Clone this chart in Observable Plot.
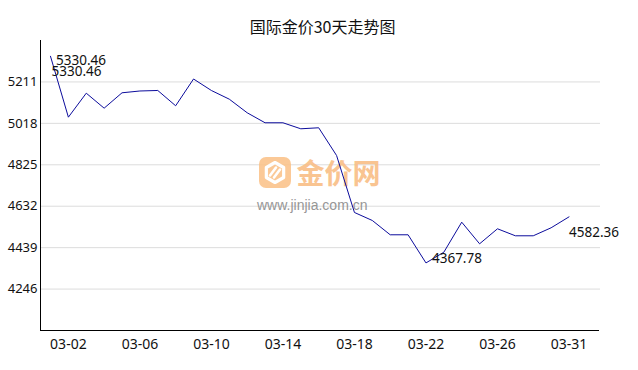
<!DOCTYPE html>
<html><head><meta charset="utf-8">
<script src="https://cdn.jsdelivr.net/npm/d3@7"></script>
<script src="https://cdn.jsdelivr.net/npm/@observablehq/plot@0.6"></script>
<style>body{margin:0;background:#fff}</style>
</head><body><div id="chart"></div>
<script>
const title = "国际金价30天走势图";
const dates = ["03-01","03-02","03-03","03-04","03-05","03-06","03-07","03-08","03-09","03-10",
  "03-11","03-12","03-13","03-14","03-15","03-16","03-17","03-18","03-19","03-20",
  "03-21","03-22","03-23","03-24","03-25","03-26","03-27","03-28","03-30","03-31"];
const prices = [5330.46,5046.8,5158.6,5088.7,5160.4,5168.8,5171.2,5099.9,5224.7,5171.0,
  5130.6,5067.3,5020.7,5020.7,4992.7,4997.4,4868.3,4602.8,4565.5,4498.9,
  4498.9,4367.78,4417.8,4557.6,4456.9,4526.8,4494.2,4494.2,4531.5,4582.36];
const xTickLabels = ["03-02","03-06","03-10","03-14","03-18","03-22","03-26","03-31"];
const yTicks = [4246,4439,4632,4825,5018,5211];
const yDomain = [4053,5404];
const watermarkName = "金价网";
const watermarkUrl = "www.jinjia.com.cn";

const data = dates.map((d,i)=>({date:d, price:prices[i]}));
const iMax = d3.maxIndex(prices), iMin = d3.minIndex(prices), iLast = prices.length-1;

function axisLines(index, scales, values, dims) {
  const {marginLeft, marginTop, width, marginRight} = dims;
  const yb = Math.round(scales.y(yDomain[0])) + 0.5;
  const g = d3.create("svg:g").attr("stroke","#000").attr("stroke-width",1);
  g.append("line").attr("x1", marginLeft+0.5).attr("x2", marginLeft+0.5).attr("y1", marginTop).attr("y2", yb);
  g.append("line").attr("x1", marginLeft).attr("x2", width-marginRight-1).attr("y1", yb).attr("y2", yb);
  return g.node();
}
function watermark(index, scales, values, dims) {
  const {marginLeft, marginTop, width, height, marginRight, marginBottom} = dims;
  const cx = (marginLeft + width - marginRight)/2, cy = (marginTop + height - marginBottom)/2;
  const g = d3.create("svg:g").attr("opacity",0.9).attr("text-anchor","start");
  const bx = cx - 61, by = cy - 28, s = 32;
  g.append("rect").attr("x",bx).attr("y",by).attr("width",s).attr("height",s-1).attr("rx",7).attr("fill","#fbc48c");
  const c = [bx+s/2, by+s/2 - 0.5];
  const r = 10;
  const hex = d3.range(6).map(k => [c[0] + r*Math.cos(Math.PI/6 + k*Math.PI/3), c[1] + r*Math.sin(Math.PI/6 + k*Math.PI/3)]);
  g.append("path").attr("d","M"+hex.join("L")+"Z").attr("fill","none").attr("stroke","#fff").attr("stroke-width",3.2).attr("stroke-linejoin","round");
  g.append("path").attr("d",`M${c[0]-5},${c[1]+3}L${c[0]+1},${c[1]-5}M${c[0]-1},${c[1]+5}L${c[0]+5},${c[1]-3}`).attr("stroke","#fff").attr("stroke-width",2.6).attr("stroke-linecap","round");
  g.append("text").attr("x",cx-23.5).attr("y",cy-1).attr("font-size",28).attr("font-weight","bold").attr("text-anchor","start")
    .attr("font-family","'Noto Sans CJK SC', sans-serif").attr("fill","#f9be86").text(watermarkName);
  g.append("text").attr("x",cx-63).attr("y",cy+24.5).attr("font-size",14).attr("text-anchor","start")
    .attr("font-family","'Liberation Sans', Arial, sans-serif").attr("fill","#8c8c8c").text(watermarkUrl);
  return g.node();
}

const labelStyle = {x:"date", y:"price", text: d => d.price.toFixed(2), textAnchor:"start", lineAnchor:"bottom", fontSize:13.5, fill:"#111"};

const chart = Plot.plot({
  width: 638, height: 370,
  marginLeft: 40, marginRight: 38, marginTop: 40, marginBottom: 40,
  style: {fontFamily: "'Noto Sans', 'Noto Sans CJK SC', sans-serif", background: "#fff", color: "#111"},
  x: {type: "point", domain: dates, range: [50, 568.5], padding: 0, round: false},
  y: {domain: yDomain},
  marks: [
    Plot.gridY(yTicks, {stroke: "#dcdcdc", strokeOpacity: 1}),
    watermark,
    axisLines,
    Plot.axisY(yTicks, {tickSize: 0, tickPadding: 3, fontSize: 13, label: null, tickFormat: d => String(d)}),
    Plot.axisX(xTickLabels, {tickSize: 0, tickPadding: 9, fontSize: 14, label: null}),
    Plot.line(data, {x: "date", y: "price", stroke: "#0c0c9c", strokeWidth: 1}),
    Plot.text([data[0]], {...labelStyle, dx: 1, dy: 20}),
    Plot.text([data[iMax]], {...labelStyle, dx: 5.5, dy: 9}),
    Plot.text([data[iMin]], {...labelStyle, dx: 6, dy: 0}),
    Plot.text([data[iLast]], {...labelStyle, dx: 0, dy: 20}),
    Plot.text([title], {frameAnchor: "top", dx: 2, dy: -7.5, lineAnchor: "bottom", fontSize: 16, fontFamily: "'Noto Sans CJK SC', sans-serif", fill: "#111"})
  ]
});
document.getElementById("chart").append(chart);
</script>
</body></html>
